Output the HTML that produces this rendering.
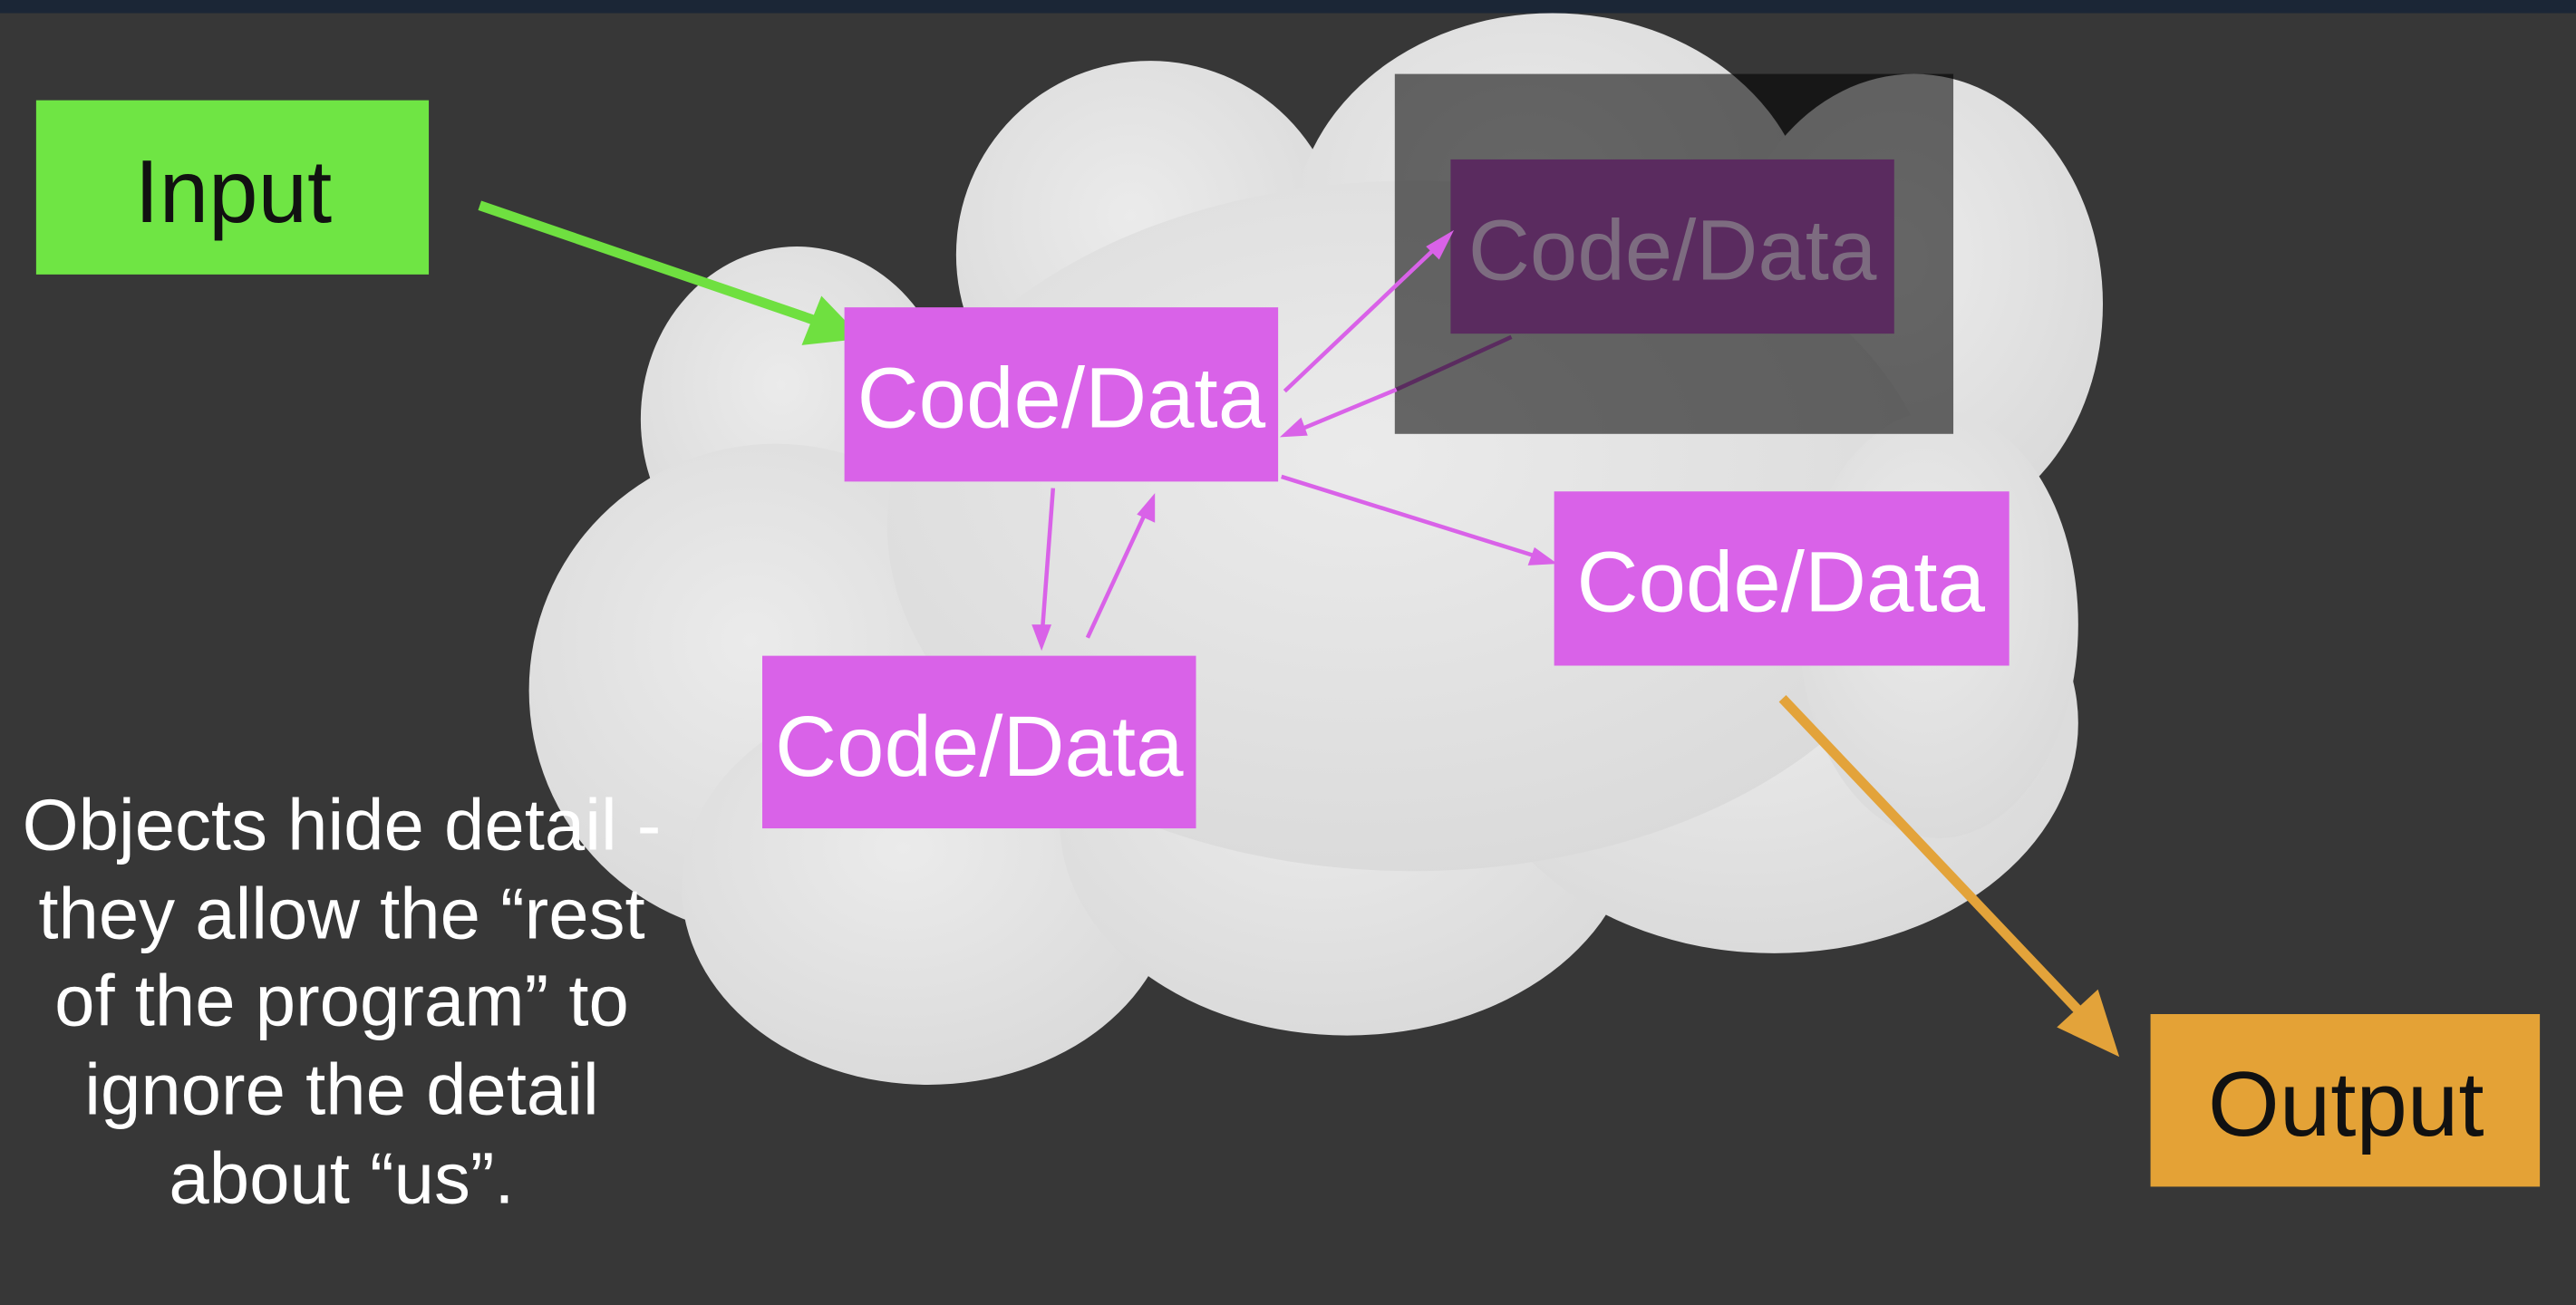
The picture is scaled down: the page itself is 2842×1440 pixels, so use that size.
<!DOCTYPE html>
<html><head><meta charset="utf-8"><style>
html,body{margin:0;padding:0;background:#373737;}
svg{display:block}
text{font-family:"Liberation Sans",sans-serif;}
</style></head><body>
<svg width="2842" height="1440" viewBox="0 0 1568 794" preserveAspectRatio="none" xmlns="http://www.w3.org/2000/svg">
<defs>
<radialGradient id="cg" cx="0.45" cy="0.4" r="0.7">
<stop offset="0" stop-color="#ebebeb"/><stop offset="1" stop-color="#d8d8d8"/>
</radialGradient>
</defs>
<rect width="1568" height="794" fill="#373737"/>
<rect width="1568" height="8" fill="#1b2636"/>
<!-- cloud -->
<g fill="url(#cg)">
<ellipse cx="700" cy="155" rx="118" ry="118"/>
<ellipse cx="945" cy="142" rx="158" ry="134"/>
<ellipse cx="1165" cy="185" rx="115" ry="140"/>
<ellipse cx="485" cy="255" rx="95" ry="105"/>
<ellipse cx="472" cy="420" rx="150" ry="150"/>
<ellipse cx="565" cy="540" rx="150" ry="120"/>
<ellipse cx="820" cy="500" rx="175" ry="130"/>
<ellipse cx="1080" cy="440" rx="185" ry="140"/>
<ellipse cx="860" cy="320" rx="320" ry="210"/>
<ellipse cx="1180" cy="380" rx="85" ry="130"/>
</g>
<!-- dark overlay -->
<rect x="849" y="45" width="340" height="219" fill="#000" fill-opacity="0.57"/>
<rect x="883" y="97" width="270" height="106" fill="#5a2b5f"/>
<text x="1018" y="170" font-size="52" fill="#7d6c80" text-anchor="middle">Code/Data</text>
<!-- input -->
<rect x="22" y="61" width="239" height="106" fill="#6fe544"/>
<text x="142" y="135" font-size="54" fill="#111" text-anchor="middle">Input</text>
<line x1="292" y1="125" x2="505" y2="198" stroke="#6fe040" stroke-width="6"/>
<path d="M525,206 L488,210 L500,180 z" fill="#6fe040"/>
<!-- magenta arrows -->
<g stroke="#d962e8" stroke-width="2.5" fill="none">
<line x1="782" y1="238" x2="880" y2="145"/>
<line x1="780" y1="290" x2="940" y2="340"/>
<line x1="641" y1="297" x2="634" y2="390"/>
<line x1="662" y1="388" x2="700" y2="306"/>
</g>
<line x1="920" y1="205" x2="850" y2="237" stroke="#5a2b5f" stroke-width="2.5"/>
<line x1="850" y1="237" x2="785" y2="264" stroke="#d962e8" stroke-width="2.5"/>
<g fill="#d962e8">
<path d="M885,140 L876,158 L868,150 z"/>
<path d="M948,343 L930,344 L934,333 z"/>
<path d="M634,396 L628,380 L640,380 z"/>
<path d="M703,300 L703,318 L692,313 z"/>
<path d="M779,266 L792,254 L796,265 z"/>
</g>
<!-- boxes -->
<rect x="514" y="187" width="264" height="106" fill="#d962e8"/>
<text x="646" y="260" font-size="52" fill="#fff" text-anchor="middle">Code/Data</text>
<rect x="946" y="299" width="277" height="106" fill="#d962e8"/>
<text x="1084" y="372" font-size="52" fill="#fff" text-anchor="middle">Code/Data</text>
<rect x="464" y="399" width="264" height="105" fill="#d962e8"/>
<text x="596" y="472" font-size="52" fill="#fff" text-anchor="middle">Code/Data</text>
<!-- output -->
<line x1="1085" y1="425" x2="1272" y2="622" stroke="#e3a33a" stroke-width="6"/>
<path d="M1290,643 L1252,625 L1277,602 z" fill="#e3a33a"/>
<rect x="1309" y="617" width="237" height="105" fill="#e4a236"/>
<text x="1428" y="691" font-size="56" fill="#111" text-anchor="middle">Output</text>
<!-- caption -->
<g font-size="44" fill="#fff" text-anchor="middle">
<text x="208" y="517">Objects hide detail -</text>
<text x="208" y="571">they allow the “rest</text>
<text x="208" y="624">of the program” to</text>
<text x="208" y="678">ignore the detail</text>
<text x="208" y="732">about “us”.</text>
</g>
</svg>
</body></html>
